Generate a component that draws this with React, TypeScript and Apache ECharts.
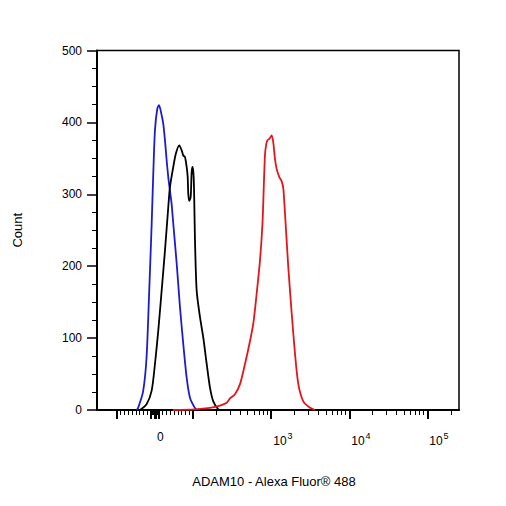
import React, { useEffect, useRef } from "react";
import * as echarts from "echarts";

// ---- data (fluorescence intensity, count) ----
const blueX = [-48, -44, -31, -22, -15, -8.6, -4.4, 0, 6, 10.5, 17.5, 21.7, 26.2, 30.6, 34.8, 39.2, 43.5, 47.9, 56.8, 65.4, 74, 82.9, 91.6, 105, 113];
const blueY = [0, 3, 26, 73, 166, 259, 329, 389, 419, 424, 410, 398, 375, 347, 324, 305, 287, 259, 204, 143, 92, 45, 17, 3, 0];

const blackX = [-39, -22, -8.6, 0, 8.6, 17.5, 26.2, 34.8, 39.2, 47.9, 54.9, 63.6, 69.9, 74, 78.5, 82.9, 85.6, 87.1, 89.7, 93.4, 96, 98.6, 101.4, 103.2, 105.4, 110.8, 122.2, 134.6, 148.9, 164.1, 180.9, 209.7, 233.9];
const blackY = [0, 8, 27, 64, 110, 166, 222, 282, 310, 338, 357, 368, 361, 354, 352, 338, 324, 301, 291, 296, 331, 338, 324, 291, 236, 166, 129, 101, 64, 31, 12, 1, 0];

const redX = [47, 105, 164, 220, 269, 296, 343, 398, 461, 535, 589, 651, 718, 773, 808, 832, 858, 891, 945, 1014, 1063, 1118, 1176, 1270, 1362, 1429, 1471, 1502, 1656, 1831, 2018, 2225, 2578, 3141, 3641];
const redY = [0, 1, 3, 6, 10, 16, 22, 36, 64, 96, 120, 162, 208, 260, 320, 355, 368, 375, 377, 382, 372, 349, 335, 324, 318, 308, 289, 273, 198, 134, 78, 36, 12, 3, 0];

const seriesColors = ["#1c1ccf", "#000000", "#e3161b"];

// axis extent (intensity) and tick values
const xMinValue = -179;
const xMaxValue = 255000;
const xLabelValues = [0, 1000, 10000, 100000];
const xLabelTexts = ["0", "10|3", "10|4", "10|5"];
const xMajorTickValues = [-100, -10, -1, 1, 10, 100, 1000, 10000, 100000];

const yMin = 0;
const yMax = 500;
const yInterval = 100;

// biexponential-like display transform
const LIN = 0.49;
function biex(v: number): number {
  const a = Math.abs(v);
  const d = a <= 100 ? (LIN * a) / 100 : LIN + Math.log10(a / 100);
  return v < 0 ? -d : d;
}

function minorTickValues(): number[] {
  const out: number[] = [];
  for (let n = 0; n <= 5; n++) {
    for (let k = 2; k <= 9; k++) {
      const v = k * Math.pow(10, n);
      if (v <= xMaxValue) out.push(v);
      if (-v >= xMinValue) out.push(-v);
    }
  }
  return out;
}

function pairs(xs: number[], ys: number[]) {
  return xs.map((x, i) => [biex(x), ys[i]]);
}

const FONT = "'Liberation Sans', Arial, sans-serif";

export default function App() {
  const ref = useRef<HTMLDivElement>(null);
  useEffect(() => {
    if (!ref.current) return;
    const chart = echarts.init(ref.current, undefined, { renderer: "svg" });
    const dMin = biex(xMinValue);
    const dMax = biex(xMaxValue);
    const labelD = xLabelValues.map(biex);
    const option: any = {
      animation: false,
      backgroundColor: "#ffffff",
      grid: {
        left: 97,
        right: 47,
        top: 50.5,
        bottom: 96,
        show: true,
        borderColor: "#000",
        borderWidth: 1.5,
      },
      xAxis: [
        {
          type: "value",
          min: dMin,
          max: dMax,
          position: "bottom",
          name: "ADAM10 - Alexa Fluor® 488",
          nameLocation: "middle",
          nameGap: 65,
          nameTextStyle: { fontFamily: FONT, fontSize: 13, color: "#000", padding: [0, 8, 0, 0] },
          axisLine: { show: true, onZero: false, lineStyle: { color: "#000", width: 2 } },
          axisTick: {
            show: true,
            length: 9,
            lineStyle: { color: "#000", width: 2 },
            customValues: xMajorTickValues.map(biex),
          },
          axisLabel: {
            show: true,
            customValues: labelD,
            align: "left",
            margin: 21,
            padding: [0, 0, 0, 2],
            fontFamily: FONT,
            fontSize: 12,
            color: "#000",
            formatter: (val: number) => {
              let best = 0;
              for (let i = 0; i < labelD.length; i++) {
                if (Math.abs(labelD[i] - val) < Math.abs(labelD[best] - val)) best = i;
              }
              const t = xLabelTexts[best];
              if (t.indexOf("|") < 0) return "{b|" + t + "}";
              const [base, exp] = t.split("|");
              return "{b|" + base + "}{s|" + exp + "}";
            },
            rich: {
              b: { fontFamily: FONT, fontSize: 12, color: "#000" },
              s: { fontFamily: FONT, fontSize: 9, color: "#000", padding: [0, 0, 10, 1] },
            },
          },
          splitLine: { show: false },
        },
        {
          type: "value",
          min: dMin,
          max: dMax,
          position: "bottom",
          axisLine: { show: false, onZero: false },
          axisTick: {
            show: true,
            length: 5,
            lineStyle: { color: "#000", width: 1 },
            customValues: minorTickValues().map(biex),
          },
          axisLabel: { show: false },
          splitLine: { show: false },
        },
      ],
      yAxis: {
        type: "value",
        min: yMin,
        max: yMax,
        interval: yInterval,
        position: "left",
        name: "Count",
        nameLocation: "middle",
        nameRotate: 90,
        nameGap: 73,
        nameTextStyle: { fontFamily: FONT, fontSize: 13, color: "#000" },
        axisLine: { show: true, onZero: false, lineStyle: { color: "#000", width: 2 } },
        axisTick: { show: true, length: 10, lineStyle: { color: "#000", width: 1.5 } },
        minorTick: { show: true, splitNumber: 4, length: 5, lineStyle: { color: "#000", width: 1 } },
        axisLabel: { fontFamily: FONT, fontSize: 12, color: "#000", margin: 15 },
        splitLine: { show: false },
        minorSplitLine: { show: false },
      },
      series: [
        { type: "line", data: pairs(blueX, blueY), color: seriesColors[0] },
        { type: "line", data: pairs(blackX, blackY), color: seriesColors[1] },
        { type: "line", data: pairs(redX, redY), color: seriesColors[2] },
      ].map((s) => ({
        ...s,
        xAxisIndex: 0,
        showSymbol: false,
        symbol: "none",
        smooth: 0.25,
        lineStyle: { width: 1.8, color: s.color },
      })),
    };
    chart.setOption(option);
    return () => chart.dispose();
  }, []);
  return (
    <div
      ref={ref}
      style={{ position: "fixed", left: 0, top: 0, width: 506, height: 506, background: "#fff" }}
    />
  );
}
